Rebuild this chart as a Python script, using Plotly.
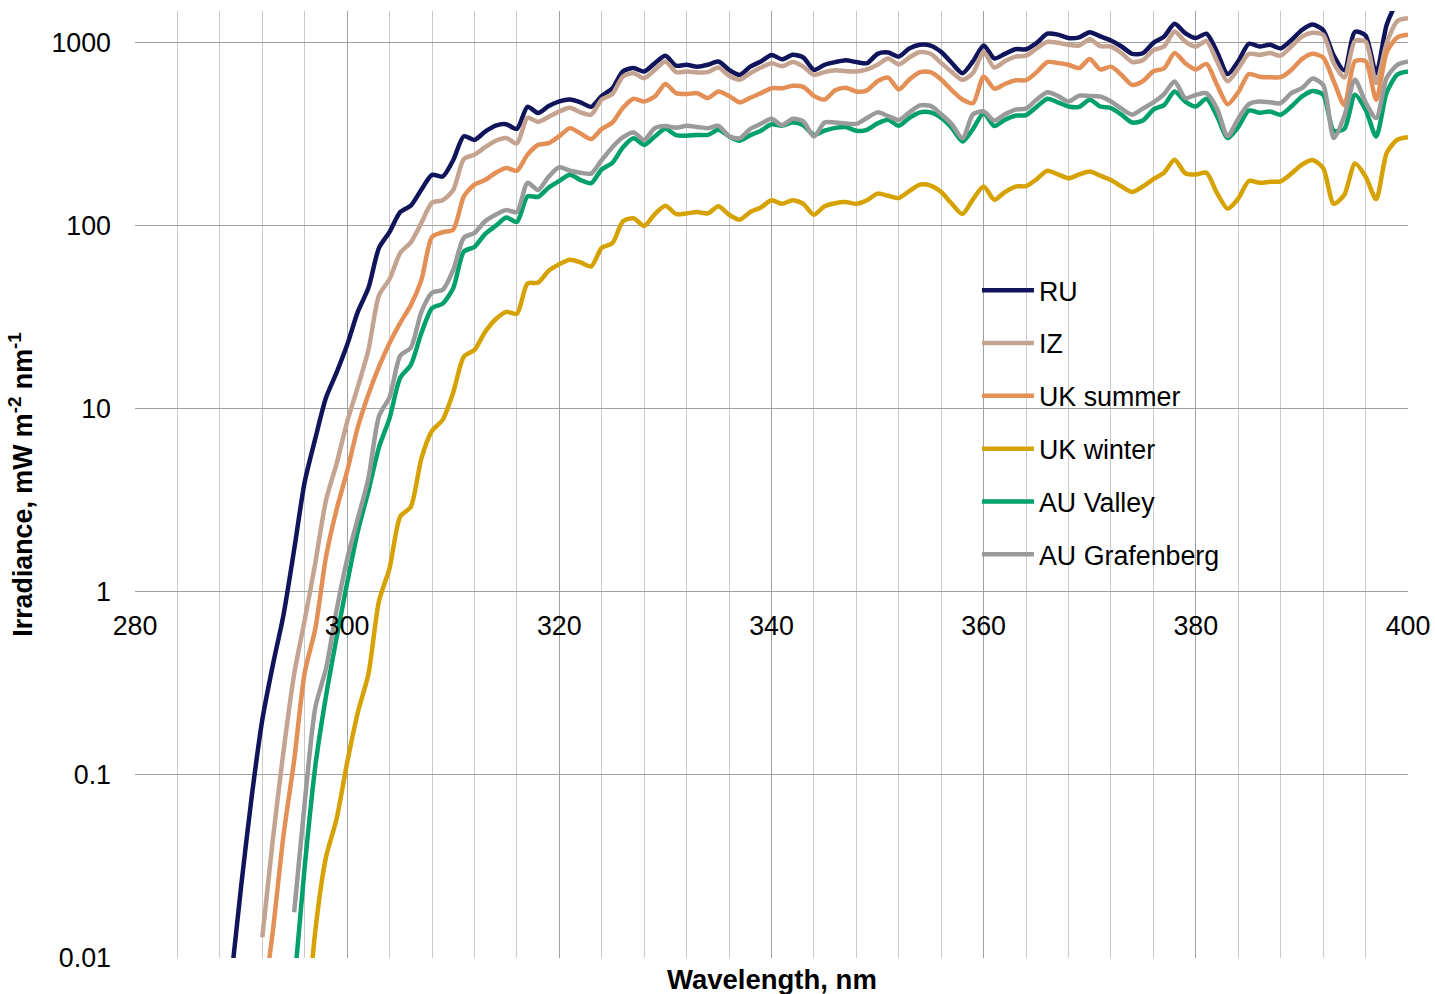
import plotly.graph_objects as go

# ---------------- data ----------------
# Spectral irradiance, mW m-2 nm-1, at 1 nm steps starting at the given wavelength
ru_start = 289
ru = [0.0071, 0.0245, 0.076, 0.20, 0.40, 0.75, 1.7, 4.0, 6.9, 11.5, 15.8,
      22.4, 33.9, 45.7, 75.9, 92.7, 119, 129, 158, 190, 186,
      229, 309, 295, 327, 353, 359, 339, 447, 414, 452,
      479, 490, 473, 447, 513, 565, 700, 728, 697, 774,
      849, 750, 759, 741, 759, 791, 711, 668, 741, 791,
      859, 813, 861, 832, 711, 759, 785, 804, 785, 774,
      871, 885, 841, 933, 977, 966, 891, 776, 682, 794,
      968, 822, 871, 923, 923, 1000, 1122, 1109, 1062, 1072,
      1143, 1084, 1030, 955, 871, 877, 1000, 1081, 1271, 1130,
      1062, 1122, 891, 676, 794, 989, 955, 977, 933, 1035,
      1175, 1259, 1175, 851, 708, 1148, 1096, 682, 1259, 1660,
      1905]

iz_start = 292
iz = [0.013, 0.0447, 0.135, 0.355, 0.703, 1.445, 3.16, 5.01,
      8.51, 13.2, 20.9, 41.7, 51.3, 71.1, 81.3, 104, 134, 138,
      157, 232, 245, 269, 292, 302, 282, 389, 370, 394,
      422, 442, 417, 405, 490, 525, 655, 682, 641, 711,
      791, 692, 697, 689, 692, 733, 661, 628, 682, 733,
      774, 745, 785, 741, 668, 692, 708, 700, 697, 716,
      759, 820, 762, 832, 891, 871, 776, 692, 628, 684,
      891, 733, 794, 841, 851, 933, 1012, 1000, 975, 966,
      1047, 959, 955, 879, 785, 804, 912, 955, 1153, 1016,
      955, 1023, 794, 617, 724, 871, 859, 879, 851, 955,
      1081, 1135, 1107, 776, 646, 1023, 1016, 603, 1000, 1318,
      1365]

uks_start = 292
uk_summer = [0.005, 0.0141, 0.0468, 0.120, 0.363, 0.631, 1.55, 2.82,
             4.57, 7.94, 12.0, 17.0, 22.9, 29.5, 36.9, 50.7, 87.1, 92.3,
             95.5, 145, 168, 178, 195, 207, 200, 245, 277, 283,
             309, 342, 320, 298, 339, 367, 442, 495, 478, 509,
             596, 531, 525, 531, 499, 542, 513, 473, 501, 531,
             565, 565, 582, 575, 513, 490, 550, 569, 542, 550,
             617, 646, 556, 631, 692, 692, 631, 550, 490, 468,
             655, 562, 596, 624, 625, 692, 785, 776, 759, 728,
             815, 716, 741, 668, 589, 617, 700, 724, 879, 774,
             716, 767, 589, 462, 537, 676, 653, 649, 649, 711,
             815, 871, 832, 617, 457, 794, 794, 489, 891, 1072,
             1107]

ukw_start = 296
uk_winter = [0.00316, 0.0141, 0.0355, 0.0575,
             0.117, 0.219, 0.355, 0.891, 1.35, 2.58, 2.92, 5.37, 7.59, 8.71,
             12.3, 19.3, 21.0, 26.3, 30.9, 33.9, 33.1, 48.4, 49.0, 56.9,
             61.7, 65.3, 63.1, 60.0, 75.9, 80.4, 106, 110, 100, 116,
             129, 116, 117, 119, 117, 128, 115, 108, 119, 126,
             138, 132, 138, 132, 115, 128, 133, 135, 132, 138,
             150, 146, 142, 155, 168, 166, 153, 132, 116, 140,
             164, 139, 153, 164, 165, 180, 200, 191, 182, 191,
             198, 188, 178, 164, 153, 164, 180, 195, 230, 194,
             191, 195, 151, 124, 141, 176, 172, 174, 175, 193,
             216, 229, 207, 132, 148, 219, 186, 140, 251, 296,
             305]

auv_start = 295
au_valley = [0.0071, 0.0316, 0.112, 0.269, 0.562,
             1.12, 2.14, 3.55, 6.17, 8.91, 14.8, 17.4, 26.0, 35.5, 37.6,
             45.7, 72.4, 76.7, 90.2, 100, 111, 105, 145, 144, 162,
             176, 190, 178, 171, 204, 221, 269, 301, 277, 308,
             339, 313, 311, 314, 314, 335, 308, 292, 313, 331,
             359, 353, 367, 355, 314, 331, 343, 347, 331, 335,
             363, 380, 352, 389, 417, 417, 389, 343, 289, 339,
             412, 351, 380, 400, 403, 447, 495, 473, 449, 447,
             489, 449, 440, 405, 367, 376, 432, 457, 542, 478,
             449, 495, 398, 302, 347, 427, 415, 422, 405, 449,
             509, 546, 520, 331, 339, 520, 431, 308, 537, 671,
             697]

aug_start = 295
au_grafenberg = [0.0178, 0.0708, 0.234, 0.380, 0.794,
                 1.51, 2.51, 4.17, 9.12, 11.6, 19.5, 21.6, 33.9, 43.1, 44.7,
                 57.5, 86.1, 91.6, 106, 115, 122, 119, 172, 157, 186,
                 209, 200, 195, 193, 229, 269, 305, 324, 295, 342,
                 351, 344, 352, 347, 342, 352, 309, 301, 339, 361,
                 385, 355, 385, 372, 308, 367, 367, 363, 361, 389,
                 417, 398, 379, 417, 455, 452, 407, 359, 301, 407,
                 422, 376, 407, 432, 437, 490, 537, 513, 478, 515,
                 513, 509, 478, 437, 405, 437, 473, 525, 615, 499,
                 520, 531, 437, 309, 385, 462, 478, 473, 468, 531,
                 565, 638, 589, 302, 398, 628, 473, 388, 646, 759,
                 791]

series_names = ["RU", "IZ", "UK summer", "UK winter", "AU Valley", "AU Grafenberg"]
series_starts = [ru_start, iz_start, uks_start, ukw_start, auv_start, aug_start]
series_values = [ru, iz, uk_summer, uk_winter, au_valley, au_grafenberg]
series_colors = ["#10145A", "#C4A390", "#E38F55", "#D6A202", "#00A06C", "#9A9A9A"]

for s, v in zip(series_starts, series_values):
    assert s + len(v) - 1 == 400, (s, len(v))

y_tickvals = [0.01, 0.1, 1, 10, 100, 1000]
y_ticktext = ["0.01", "0.1", "1", "10", "100", "1000"]
x_tickvals = [280, 300, 320, 340, 360, 380, 400]

# ---------------- figure ----------------
FONT = "Liberation Sans, Arial, sans-serif"
FS = 26.8
Y_MIN, Y_MAX = -2.0, 3.174
y1_pos = (0 - Y_MIN) / (Y_MAX - Y_MIN)   # x axis drawn where irradiance = 1

fig = go.Figure()
for name, start, vals, color in zip(series_names, series_starts, series_values, series_colors):
    fig.add_trace(go.Scatter(
        x=list(range(start, start + len(vals))), y=vals, mode="lines", name=name,
        legendgroup=name,
        line=dict(color=color, width=4.5, shape="spline", smoothing=0.7),
    ))

fig.update_layout(
    width=1435, height=994,
    margin=dict(l=135, r=27, t=11, b=36, autoexpand=False),
    paper_bgcolor="white", plot_bgcolor="white",
    font=dict(family=FONT, size=FS, color="black"),
    showlegend=True,
    legend=dict(x=0.6614, y=0.7305, xanchor="left", yanchor="top",
                font=dict(family=FONT, size=FS, color="black"),
                itemwidth=52, tracegroupgap=15, bgcolor="rgba(0,0,0,0)",
                borderwidth=0),
    annotations=[dict(text="<b>Wavelength, nm</b>", xref="paper", yref="paper",
                      x=0.5, y=-0.0232, xanchor="center", yanchor="middle",
                      showarrow=False, font=dict(family=FONT, size=27.5, color="black"))],
)

fig.update_xaxes(
    range=[280, 400], tickvals=x_tickvals, automargin=False,
    showgrid=True, gridcolor="#A0A0A0", gridwidth=1,
    minor=dict(dtick=4, tick0=280, showgrid=True, gridcolor="#CACACA", gridwidth=1),
    anchor="free", position=y1_pos,
    ticks="", ticklabelstandoff=15, showline=False, zeroline=False,
    tickfont=dict(family=FONT, size=FS, color="black"),
)
fig.update_yaxes(
    type="log", range=[Y_MIN, Y_MAX], tickvals=y_tickvals, ticktext=y_ticktext,
    automargin=False,
    showgrid=True, gridcolor="#A0A0A0", gridwidth=1,
    ticks="", ticklabelstandoff=23, showline=False, zeroline=False,
    tickfont=dict(family=FONT, size=FS, color="black"),
    title=dict(text="<b>Irradiance, mW m<sup>-2</sup> nm<sup>-1</sup></b>",
               standoff=10, font=dict(family=FONT, size=FS, color="black")),
)

fig.write_html("out.html")
